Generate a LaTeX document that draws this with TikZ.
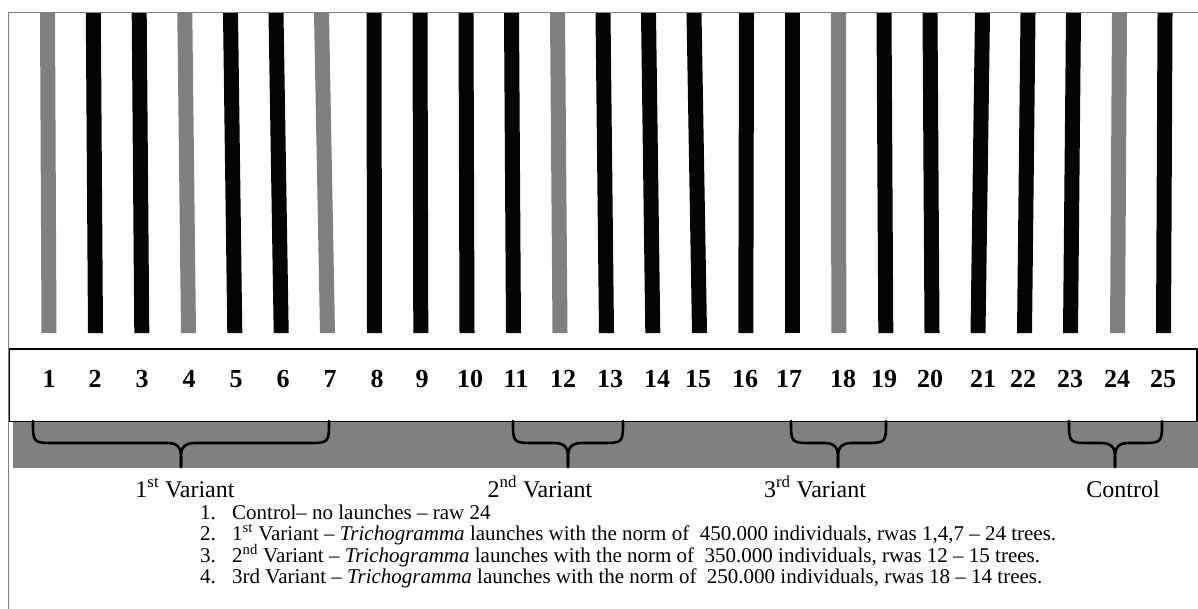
\documentclass[tikz,border=0pt]{standalone}
\usepackage{fontspec}
\setmainfont{Liberation Serif}
\definecolor{midgray}{HTML}{808080}
\definecolor{barblack}{HTML}{030505}
\tikzset{
  framestyle/.style={draw=midgray,line width=1pt},
  boxstyle/.style={draw=black,line width=1.3pt},
  bracestyle/.style={draw=black,line width=2.6pt,line cap=round,line join=round},
  numlabel/.style={font=\fontsize{26}{26}\selectfont\bfseries,anchor=base,inner sep=0pt},
  varlabel/.style={font=\fontsize{24}{24}\selectfont,anchor=base,inner sep=0pt},
  listnum/.style={font=\fontsize{21}{21}\selectfont,anchor=base west,inner sep=0pt},
  listtext/.style={font=\fontsize{21}{21}\selectfont,anchor=base west,inner sep=0pt}
}
\newcommand{\mybrace}[3]{% left, right, tip
  \draw[bracestyle] (#1,421) .. controls (#1,443) .. ({#1+22},443) -- ({#3-14},443)
     .. controls ({#3-3},443) and (#3,448) .. (#3,457) -- (#3,467);
  \draw[bracestyle] (#2,421) .. controls (#2,443) .. ({#2-22},443) -- ({#3+14},443)
     .. controls ({#3+3},443) and (#3,448) .. (#3,457) -- (#3,467);
}
\begin{document}
\begin{tikzpicture}[x=1pt,y=-1pt]
\useasboundingbox[fill=white] (0,0) rectangle (1198,609);
% outer frame
\draw[framestyle] (8.5,609) -- (8.5,12.7) -- (1198,12.7);
% bars
\foreach \xt/\xb/\c in {47.5/49/midgray, 93.3/95.5/barblack, 139.2/141.8/barblack, 184.8/188.5/midgray,
  230.5/234.8/barblack, 276/281.2/barblack, 321.5/327.5/midgray, 374/374.5/barblack, 420/420.8/barblack,
  466/467/barblack, 511.5/513.5/barblack, 557.5/560/midgray, 603/606.5/barblack, 648.5/652.8/barblack,
  694/699.5/barblack, 746.5/745.8/barblack, 792.5/792.5/barblack, 838.5/838.8/midgray, 884/885.8/barblack,
  930/932/barblack, 982.5/978/barblack, 1028/1024.5/barblack, 1073.5/1070.5/barblack, 1119.5/1117.5/midgray,
  1165/1163.5/barblack}
  \fill[\c] ({\xt-7.5},13.2) -- ({\xt+7.5},13.2) -- ({\xb+7.5},333) -- ({\xb-7.5},333) -- cycle;
% gray band
\fill[midgray] (13,421) rectangle (1198,468);
% number box
\draw[boxstyle,fill=white] (9.5,349) rectangle (1197,421.5);
% numbers
\foreach \x [count=\i] in {49,95,142,189,236,283,330,377,422,470,516,563,610,657,698,745,789,843,884,930,983,1023,1070,1117,1163}
  \node[numlabel] (n\i) at (\x,387) {\i};
% braces
\mybrace{33}{329}{181}
\mybrace{513}{623}{568}
\mybrace{791}{886}{838}
\mybrace{1069}{1162}{1115}
% variant labels
\node[varlabel] (v1) at (185,497) {1\textsuperscript{st} Variant};
\node[varlabel] (v2) at (540,497) {2\textsuperscript{nd} Variant};
\node[varlabel] (v3) at (815,497) {3\textsuperscript{rd} Variant};
\node[varlabel] (v4) at (1123,497) {Control};
% list
\foreach \y/\n in {519/1,540.5/2,562/3,583.5/4}
  \node[listnum] (ln\n) at (200,\y) {\n.};
\node[listtext] (l1) at (232,519) {Control– no launches – raw 24};
\node[listtext] (l2) at (232,540.5) {1\textsuperscript{st} Variant – \textit{Trichogramma} launches with the norm of \ 450.000 individuals, rwas 1,4,7 – 24 trees.};
\node[listtext] (l3) at (232,562) {2\textsuperscript{nd} Variant – \textit{Trichogramma} launches with the norm of \ 350.000 individuals, rwas 12 – 15 trees.};
\node[listtext] (l4) at (232,583.5) {3rd Variant – \textit{Trichogramma} launches with the norm of \ 250.000 individuals, rwas 18 – 14 trees.};
\end{tikzpicture}
\end{document}
